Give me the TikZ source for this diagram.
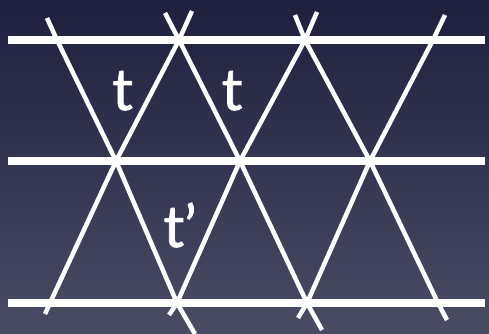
\documentclass[tikz,border=0pt]{standalone}
\usepackage{fontspec}
\setmainfont{Lato}
\newfontfamily\labfont[FakeBold=1.2]{Lato}
\definecolor{bgtop}{RGB}{31,32,62}
\definecolor{bgbot}{RGB}{74,76,100}
\begin{document}
\begin{tikzpicture}[x=1pt,y=-1pt,
  hline/.style={white, line width=7.5pt},
  dline/.style={white, line width=4.5pt},
  lab/.style={white, font=\labfont\fontsize{58}{58}\selectfont, inner sep=0pt, anchor=base}]
\shade[top color=bgtop, bottom color=bgbot] (0,0) rectangle (489,334);
\useasboundingbox (0,0) rectangle (489,334);
% horizontal lines
\coordinate (h1a) at (8,40);  \coordinate (h1b) at (485,40);
\coordinate (h2a) at (8,161); \coordinate (h2b) at (485,161);
\coordinate (h3a) at (8,303); \coordinate (h3b) at (485,303);
\draw[hline] (h1a) -- (h1b);
\draw[hline] (h2a) -- (h2b);
\draw[hline] (h3a) -- (h3b);
% lattice vertices
\coordinate (a1) at (57,40);  \coordinate (a2) at (179,40); \coordinate (a3) at (305,40); \coordinate (a4) at (433,40);
\coordinate (b1) at (116,161); \coordinate (b2) at (240,161); \coordinate (b3) at (370,161);
\coordinate (c1) at (50,303); \coordinate (c2) at (177,303); \coordinate (c3) at (307,303); \coordinate (c4) at (438,303);
% free ends
\coordinate (e1) at (47,18);  \coordinate (e2) at (165,13); \coordinate (e3) at (295,15);
\coordinate (f1) at (192,11); \coordinate (f2) at (317,12); \coordinate (f3) at (445,15);
\coordinate (g1) at (195,334); \coordinate (g2) at (322,330); \coordinate (g3) at (447,320);
\coordinate (k1) at (45,314); \coordinate (k2) at (169,315); \coordinate (k3) at (298,318);
% descending diagonals
\draw[dline] (e1) -- (a1) -- (b1) -- (c2) -- (g1);
\draw[dline] (e2) -- (a2) -- (b2) -- (c3) -- (g2);
\draw[dline] (e3) -- (a3) -- (b3) -- (c4) -- (g3);
% ascending diagonals
\draw[dline] (f1) -- (a2) -- (b1) -- (c1) -- (k1);
\draw[dline] (f2) -- (a3) -- (b2) -- (c2) -- (k2);
\draw[dline] (f3) -- (a4) -- (b3) -- (c3) -- (k3);
% labels
\node[lab] (t1) at (122.5,110) {t};
\node[lab] (t2) at (232,110) {t};
\node[lab] (t3) at (180,247) {t’};
\end{tikzpicture}
\end{document}
